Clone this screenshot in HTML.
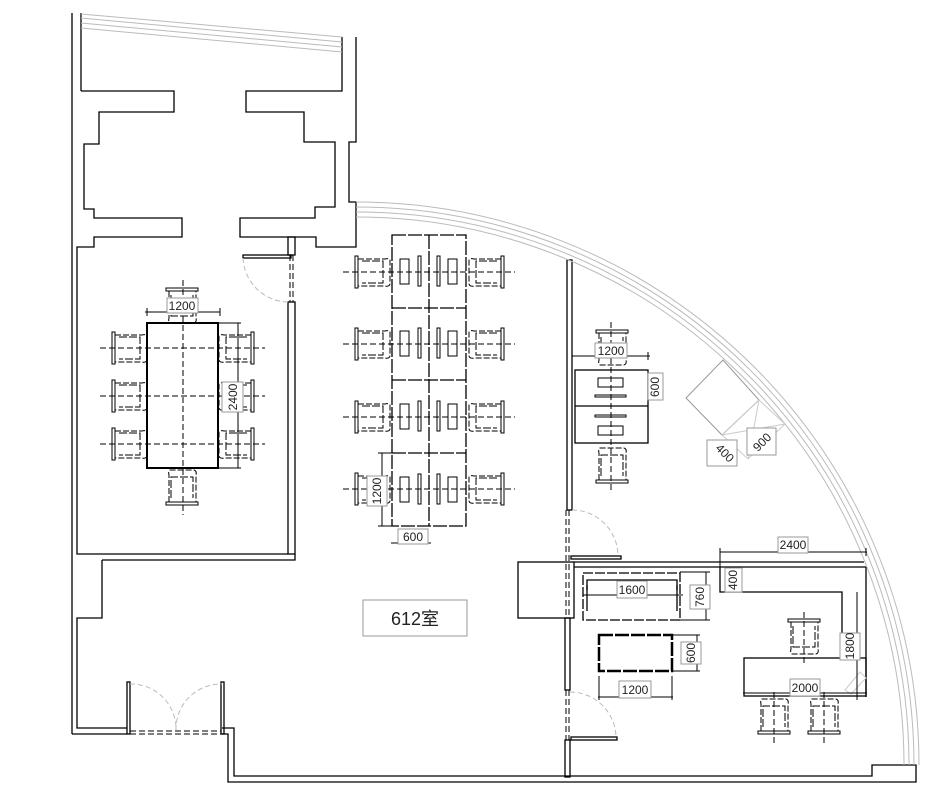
<!DOCTYPE html>
<html><head><meta charset="utf-8"><style>
html,body{margin:0;padding:0;background:#fff}
svg{display:block}
text{font-family:"Liberation Sans","Noto Sans CJK SC",sans-serif;fill:#222}
</style></head><body>
<svg width="943" height="803" viewBox="0 0 943 803" xmlns="http://www.w3.org/2000/svg">
<defs>
<g id="chR">
<rect x="0" y="0" width="3" height="32" fill="none" stroke="#000" stroke-width="1"/>
<path d="M3 3 H30 Q34 2 35 4 V28 Q34 31 30 30 H3" fill="none" stroke="#000" stroke-width="1" stroke-dasharray="6,2"/>
<path d="M7 5 H28 V27 H7" fill="none" stroke="#000" stroke-width="1" stroke-dasharray="8,2"/>
</g>
<g id="chD">
<rect x="0" y="0" width="32" height="3" fill="none" stroke="#000"/>
<path d="M3 3 V30 Q2 34 4 35 H28 Q31 34 30 30 V3" fill="none" stroke="#000" stroke-dasharray="6,2"/>
<path d="M5 7 V28 H27 V7" fill="none" stroke="#000" stroke-dasharray="8,2"/>
</g>
</defs>
<g fill="none" stroke="#000" stroke-width="1.3">
<line x1="72" y1="13" x2="72" y2="734"/>
<line x1="81" y1="13" x2="81" y2="91"/>
<polyline points="81,91 174,91 174,112 99,112 99,144 84,144 84,209 94,209 94,218 182,218 182,237 94,237 94,247 77,247 77,554 288,554"/>
<polyline points="342,37 342,91 246,91 246,112 304,112 304,142 335,142 335,207 315,207 315,218 240,218 240,237 316,237 316,247 356,247 356,202 349,202 349,142 356,142 356,37"/>
<rect x="288" y="237" width="7" height="18"/>
<rect x="243" y="255" width="48" height="3"/>
<rect x="288" y="302" width="7" height="252"/>
<polyline points="102,560 295,560 295,554"/>
<polyline points="102,560 102,618 77,618 77,728 127,728"/>
<line x1="72" y1="734" x2="127" y2="734"/>
<rect x="127" y="682" width="3" height="52"/>
<rect x="221" y="682" width="3" height="52"/>
<polyline points="222,728 234,728 234,776 872,776 872,765 916,765 916,782 228,782 228,734 222,734"/>
<rect x="567" y="260" width="5" height="250"/>
<rect x="565" y="618" width="5" height="72"/>
<rect x="565" y="740" width="5" height="37"/>
<rect x="571" y="556" width="50" height="3"/>
<rect x="571" y="737" width="46" height="3"/>
<rect x="518" y="562" width="56" height="56"/>
<line x1="574" y1="562" x2="864" y2="562"/>
<line x1="574" y1="567" x2="866" y2="567"/>
<polyline points="720,567 720,592 842,592 842,660"/>
<line x1="866" y1="567" x2="866" y2="697"/>
<rect x="744" y="658" width="122" height="38"/>
<rect x="583" y="573" width="97" height="47" stroke-dasharray="10,2"/>
<path d="M587 590 V580 H677 V590" />
<line x1="587" y1="585" x2="587" y2="611"/><line x1="677" y1="585" x2="677" y2="611"/>
<line x1="583" y1="595" x2="680" y2="595" stroke-width="1"/>
<rect x="599" y="635" width="73" height="36" stroke-width="2.5" stroke-dasharray="14,2"/>
<rect x="147" y="323" width="71" height="145" stroke-width="2"/>
<g stroke-dasharray="14,2">
<rect x="392" y="235" width="74" height="291"/>
<line x1="429" y1="235" x2="429" y2="526"/>
<line x1="392" y1="308" x2="466" y2="308"/>
<line x1="392" y1="380" x2="466" y2="380"/>
<line x1="392" y1="453" x2="466" y2="453"/>
</g>
<g stroke-width="1">
<rect x="400" y="259" width="9" height="25"/><rect x="418" y="256" width="3" height="30"/><rect x="437" y="256" width="3" height="30"/><rect x="448" y="259" width="9" height="25"/>
<rect x="400" y="331" width="9" height="25"/><rect x="418" y="328" width="3" height="30"/><rect x="437" y="328" width="3" height="30"/><rect x="448" y="331" width="9" height="25"/>
<rect x="400" y="404" width="9" height="25"/><rect x="418" y="401" width="3" height="30"/><rect x="437" y="401" width="3" height="30"/><rect x="448" y="404" width="9" height="25"/>
<rect x="400" y="477" width="9" height="25"/><rect x="418" y="474" width="3" height="30"/><rect x="437" y="474" width="3" height="30"/><rect x="448" y="477" width="9" height="25"/>
</g>
<rect x="575" y="370" width="73" height="73"/>
<line x1="575" y1="406" x2="648" y2="406"/>
<g stroke-width="1"><rect x="598" y="378" width="25" height="9"/><rect x="595" y="395" width="31" height="2"/><rect x="595" y="415" width="31" height="2"/><rect x="598" y="426" width="25" height="9"/></g>
</g>
<g>
<use href="#chR" x="355" y="256"/><use href="#chR" x="355" y="328"/><use href="#chR" x="355" y="401"/><use href="#chR" x="355" y="473"/>
<use href="#chR" transform="translate(504,256) scale(-1,1)"/><use href="#chR" transform="translate(504,328) scale(-1,1)"/><use href="#chR" transform="translate(504,401) scale(-1,1)"/><use href="#chR" transform="translate(504,473) scale(-1,1)"/>
<use href="#chR" x="112" y="332"/><use href="#chR" x="112" y="380"/><use href="#chR" x="112" y="428"/>
<use href="#chR" transform="translate(254,332) scale(-1,1)"/><use href="#chR" transform="translate(254,380) scale(-1,1)"/><use href="#chR" transform="translate(254,428) scale(-1,1)"/>
<use href="#chD" x="166" y="288"/><use href="#chD" transform="translate(166,505) scale(1,-1)"/>
<use href="#chD" x="596" y="330"/><use href="#chD" transform="translate(596,483) scale(1,-1)"/>
<use href="#chD" x="788" y="619"/>
<use href="#chD" transform="translate(758,734) scale(1,-1)"/><use href="#chD" transform="translate(808,734) scale(1,-1)"/>
</g>
<g stroke="#000" stroke-width="1" stroke-dasharray="6,3">
<line x1="343" y1="272" x2="515" y2="272"/><line x1="343" y1="344" x2="515" y2="344"/><line x1="343" y1="417" x2="515" y2="417"/><line x1="343" y1="489" x2="515" y2="489"/>
<line x1="100" y1="348" x2="265" y2="348"/><line x1="100" y1="396" x2="265" y2="396"/><line x1="100" y1="444" x2="265" y2="444"/>
<line x1="183" y1="280" x2="183" y2="515"/>
<line x1="611" y1="322" x2="611" y2="490"/>
<line x1="804" y1="612" x2="804" y2="665"/>
<line x1="774" y1="692" x2="774" y2="745"/><line x1="824" y1="692" x2="824" y2="745"/>
<line x1="293" y1="255" x2="293" y2="302"/><line x1="290" y1="255" x2="290" y2="302"/>
<line x1="569" y1="510" x2="569" y2="618"/><line x1="566" y1="510" x2="566" y2="618"/>
<line x1="569" y1="690" x2="569" y2="740"/><line x1="566" y1="690" x2="566" y2="740"/>
<line x1="130" y1="731" x2="221" y2="731"/><line x1="130" y1="734" x2="221" y2="734"/>
</g>
<g fill="none" stroke="#bbb" stroke-width="1">
<line x1="81" y1="14" x2="342" y2="37"/><line x1="81" y1="18" x2="342" y2="42"/><line x1="81" y1="23" x2="342" y2="47"/><line x1="81" y1="28" x2="342" y2="52"/>
<path d="M356 202 A563 563 0 0 1 919 765"/>
<path d="M356 207 A558 558 0 0 1 914 765"/>
<path d="M356 212 A553 553 0 0 1 909 765"/>
<path d="M356 217 A548 548 0 0 1 904 765"/>
<path d="M686 398 L723 360 L759 400 L722 435 Z" stroke="#999"/>
<path d="M722 435 L759 400 L785 424 L748 459 Z M722 435 L785 424 M759 400 L748 459" stroke="#ccc"/>
<path d="M243 258 A46 46 0 0 0 290 302" stroke-dasharray="5,3"/>
<path d="M572 510 A46 46 0 0 1 618 556" stroke-dasharray="5,3"/>
<path d="M570 692 A46 46 0 0 1 616 738" stroke-dasharray="5,3"/>
<path d="M130 684 A45 45 0 0 1 176 730 A45 45 0 0 1 222 684" stroke-dasharray="5,3"/>
<path d="M845 690 L860 672 L866 678 L851 694 Z" stroke="#ccc"/>
</g>
<g stroke="#000" stroke-width="1">
<line x1="145" y1="312" x2="220" y2="312"/><line x1="147" y1="308" x2="147" y2="316"/><line x1="220" y1="308" x2="220" y2="316"/>
<line x1="238" y1="323" x2="238" y2="468"/><line x1="218" y1="323" x2="241" y2="323"/><line x1="218" y1="468" x2="241" y2="468"/>
<line x1="382" y1="453" x2="382" y2="526"/><line x1="378" y1="453" x2="392" y2="453"/><line x1="378" y1="526" x2="392" y2="526"/>
<line x1="391" y1="543" x2="431" y2="543"/>
<line x1="572" y1="356" x2="650" y2="356"/><line x1="648" y1="352" x2="648" y2="360"/>
<line x1="648" y1="370" x2="648" y2="443"/>
<line x1="720" y1="552" x2="867" y2="552"/><line x1="720" y1="548" x2="720" y2="567"/><line x1="866" y1="548" x2="866" y2="556"/>
<line x1="742" y1="567" x2="742" y2="592"/>
<line x1="706" y1="572" x2="706" y2="620"/><line x1="680" y1="572" x2="710" y2="572"/><line x1="680" y1="620" x2="710" y2="620"/>
<line x1="583" y1="595" x2="683" y2="595"/>
<line x1="697" y1="635" x2="697" y2="671"/><line x1="672" y1="635" x2="700" y2="635"/><line x1="672" y1="671" x2="700" y2="671"/>
<line x1="598" y1="697" x2="673" y2="697"/><line x1="599" y1="676" x2="599" y2="700"/><line x1="672" y1="676" x2="672" y2="700"/>
<line x1="857" y1="592" x2="857" y2="700"/>
<line x1="743" y1="693" x2="867" y2="693"/>
</g>
<g fill="#fff" stroke="#999" stroke-width="1">
<rect x="167" y="298" width="31" height="15"/>
<rect x="222" y="382" width="21" height="30"/>
<rect x="367" y="476" width="20" height="30"/>
<rect x="398" y="529" width="30" height="15"/>
<rect x="595" y="343" width="32" height="15"/>
<rect x="648" y="373" width="15" height="27"/>
<rect x="778" y="537" width="30" height="16"/>
<rect x="725" y="568" width="17" height="24"/>
<rect x="617" y="581" width="30" height="17"/>
<rect x="690" y="585" width="20" height="24"/>
<rect x="681" y="642" width="20" height="22"/>
<rect x="619" y="681" width="32" height="17"/>
<rect x="840" y="633" width="20" height="27"/>
<rect x="790" y="679" width="30" height="17"/>
<rect x="707" y="440" width="30" height="26"/>
<rect x="747" y="428" width="29" height="27"/>
<rect x="363" y="600" width="104" height="36"/>
</g>
<g font-size="12" text-anchor="middle">
<text x="182" y="310">1200</text>
<text transform="translate(237,397) rotate(-90)">2400</text>
<text transform="translate(381,491) rotate(-90)">1200</text>
<text x="413" y="541">600</text>
<text x="611" y="355">1200</text>
<text transform="translate(659,387) rotate(-90)">600</text>
<text x="793" y="549">2400</text>
<text transform="translate(737,580) rotate(-90)">400</text>
<text x="632" y="594">1600</text>
<text transform="translate(704,597) rotate(-90)">760</text>
<text transform="translate(695,653) rotate(-90)">600</text>
<text x="635" y="694">1200</text>
<text transform="translate(854,646) rotate(-90)">1800</text>
<text x="805" y="692">2000</text>
<text transform="translate(722,456) rotate(45)">400</text>
<text transform="translate(765,445) rotate(-45)">900</text>
<text x="415" y="625" font-size="18">612室</text>
</g>
</svg>
</body></html>
